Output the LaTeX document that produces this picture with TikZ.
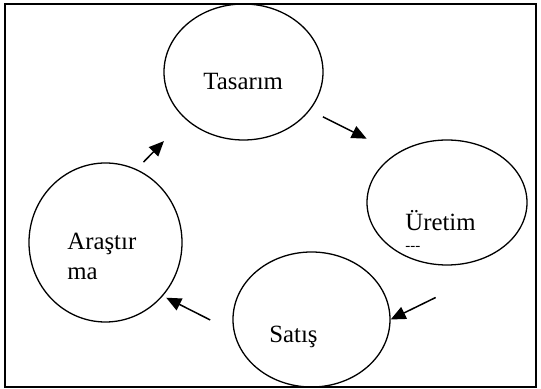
\documentclass[tikz,border=0pt]{standalone}
\usepackage{fontspec}
\setmainfont{Liberation Serif}
\usetikzlibrary{arrows.meta, shapes.geometric}

\begin{document}
\begin{tikzpicture}[x=0.5pt, y=-0.5pt,
  stage/.style={ellipse, draw, line width=0.65pt, inner sep=0pt},
  lbl/.style={anchor=base west, inner sep=0pt, font=\fontsize{12.4}{15}\selectfont},
  arr/.style={-{Triangle[length=7.5pt, width=6.5pt]}, line width=0.75pt}
]
  \useasboundingbox (0,0) rectangle (541,389);
  \draw[line width=1pt] (5,4) rectangle (536,387);

  % the four stages of the cycle
  \node[stage, minimum width=79.5pt, minimum height=68pt]   (tasarim)   at (243.5,72)    {};
  \node[stage, minimum width=80pt,   minimum height=62.5pt] (uretim)    at (447,202.5)   {};
  \node[stage, minimum width=78.5pt, minimum height=67.5pt] (satis)     at (311.5,319.5) {};
  \node[stage, minimum width=76.5pt, minimum height=79.5pt] (arastirma) at (105.5,242.5) {};

  \node[lbl] (tasarim-txt) at (203,90)  {Tasarım};
  \node[lbl] (uretim-txt)  at (405,231) {Üretim};
  \node[lbl, font=\fontsize{7.5}{9}\selectfont] (uretim-dash) at (405,251) {-{}-{}-};
  \node[lbl] (satis-txt)   at (269,343) {Satış};
  \node[lbl, align=left] (arastirma-txt) at (67,280) {Araştır\\ma};

  \draw[arr, shorten <=7.25pt, shorten >=16.5pt] (tasarim.-30) -- (uretim.136.5);
  \draw[arr] ([shift={(45,-22)}]satis.east) -- (satis.east);
  \draw[arr, shorten <=13.15pt, shorten >=1.85pt] (satis.189.5) -- (arastirma.-43.2);
  \draw[arr, shorten <=4.9pt, shorten >=15.3pt] (arastirma.67.8) -- (tasarim.219.6);
\end{tikzpicture}
\end{document}
